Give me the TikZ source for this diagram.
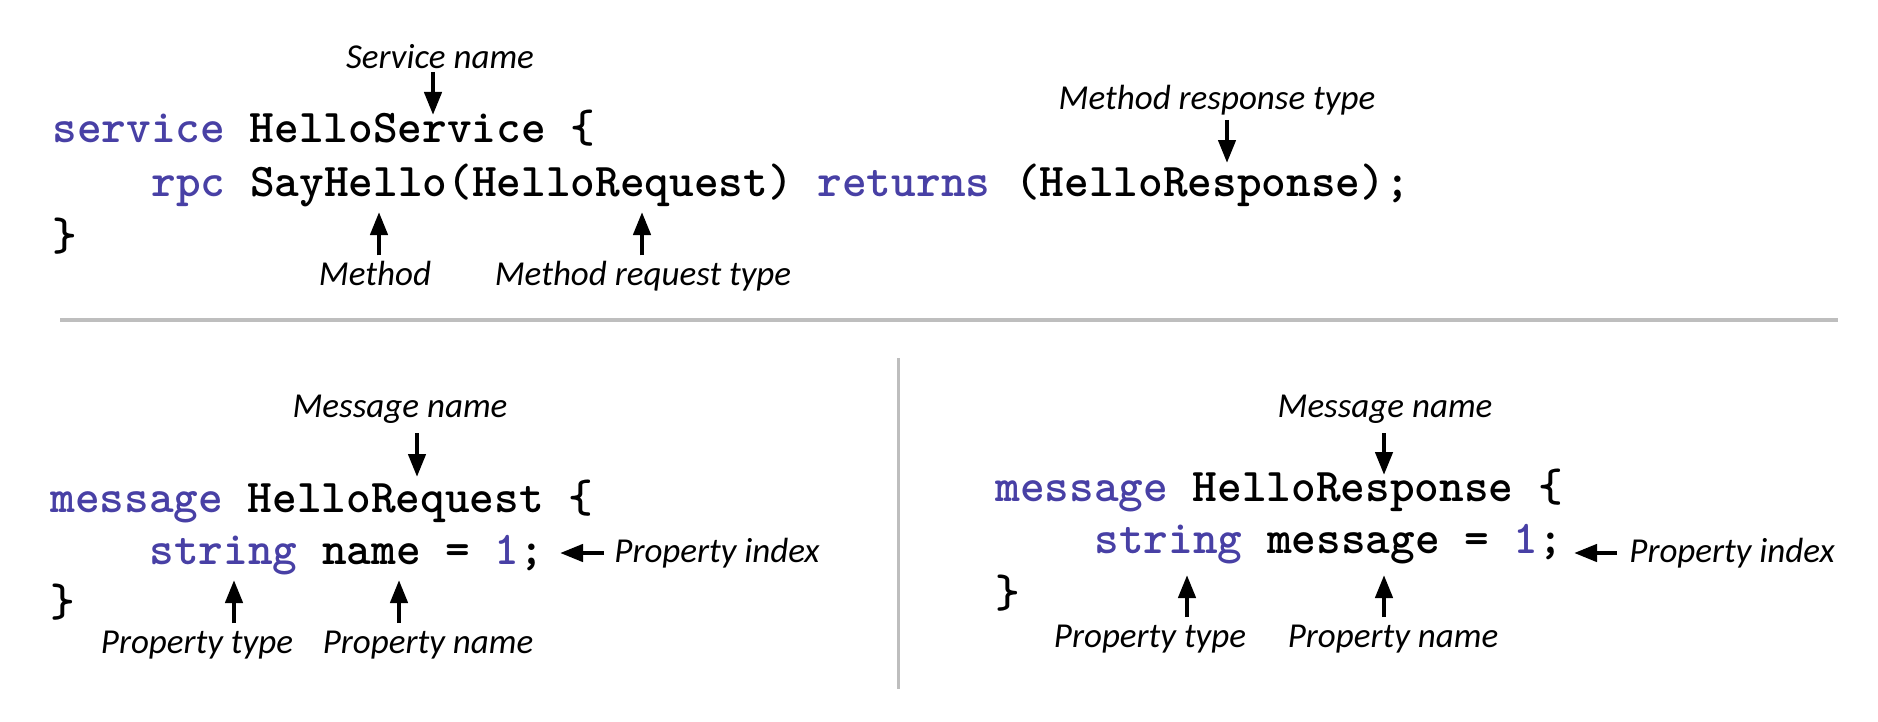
\documentclass[tikz,border=0pt]{standalone}
\usepackage{fontspec}
\newfontfamily\handfont{Carlito}
\usetikzlibrary{arrows.meta}
\definecolor{kwblue}{RGB}{72,64,165}
\definecolor{sepgray}{RGB}{190,190,190}
\newcommand{\kwd}[1]{\textcolor{kwblue}{#1}}
\begin{document}
\begin{tikzpicture}[x=0.5pt,y=-0.5pt,
  code/.style={anchor=base west, inner sep=0pt, font=\ttfamily\bfseries\fontsize{23.5pt}{26pt}\selectfont\addfontfeatures{FakeBold=1.2}},
  note/.style={anchor=base, inner sep=0pt, font=\handfont\itshape\fontsize{17.5pt}{21pt}\selectfont},
  arr/.style={line width=2.2pt, -{Triangle[length=11.5pt,width=8.5pt]}},
  sepline/.style={line width=2pt, draw=sepgray}]
\useasboundingbox (0,0) rectangle (1878,722);

% separators
\draw[sepline] (60,320) -- (1838,320);
\draw[sepline, line width=1.5pt] (898,358) -- (898,689);

% ---- service block
\node[code] (s1) at (52,142) {\kwd{service} HelloService \{};
\node[code] (s2) at (151,196) {\kwd{rpc} SayHello(HelloRequest) \kwd{returns} (HelloResponse);};
\node[code] (s3) at (52,250) {\}};

\node[note] (sn) at (440,69) {Service name};
\node[note] (mr) at (1217,110) {Method response type};
\node[note] (me) at (375,285) {Method};
\node[note] (mq) at (643,285) {Method request type};

\coordinate (snT) at (433,115);
\coordinate (mrT) at (1227,163);
\coordinate (meT) at (379,212);
\coordinate (mqT) at (642,212);

\draw[arr] ([yshift=-1.5pt]sn.base -| snT) -- (snT);
\draw[arr] ([yshift=-5pt]mr.base -| mrT) -- (mrT);
\draw[arr] ([yshift=2.5pt]me.north -| meT) -- (meT);
\draw[arr] ([yshift=2.5pt]mq.north -| mqT) -- (mqT);

% ---- request message
\node[code] (r1) at (50,512) {\kwd{message} HelloRequest \{};
\node[code] (r2) at (149,564) {\kwd{string} name = \kwd{1};};
\node[code] (r3) at (50,616) {\}};

\node[note] (mn1) at (400,417) {Message name};
\node[note, anchor=base west] (pi1) at (614,562) {Property index};
\node[note] (pt1) at (197,653) {Property type};
\node[note] (pn1) at (428,653) {Property name};

\coordinate (mn1T) at (417,477);
\coordinate (pi1T) at (560,553);
\coordinate (pt1T) at (234,580);
\coordinate (pn1T) at (399,580);

\draw[arr] ([yshift=-8pt]mn1.base -| mn1T) -- (mn1T);
\draw[arr] ([xshift=-5pt]pi1.west |- pi1T) -- (pi1T);
\draw[arr] ([yshift=3.5pt]pt1.north -| pt1T) -- (pt1T);
\draw[arr] ([yshift=3.5pt]pn1.north -| pn1T) -- (pn1T);

% ---- response message
\node[code] (q1) at (995,501) {\kwd{message} HelloResponse \{};
\node[code] (q2) at (1094,553) {\kwd{string} message = \kwd{1};};
\node[code] (q3) at (995,607) {\}};

\node[note] (mn2) at (1385,417) {Message name};
\node[note, anchor=base west] (pi2) at (1629,562) {Property index};
\node[note] (pt2) at (1150,647) {Property type};
\node[note] (pn2) at (1393,647) {Property name};

\coordinate (mn2T) at (1384,475);
\coordinate (pi2T) at (1574,553);
\coordinate (pt2T) at (1187,575);
\coordinate (pn2T) at (1384,575);

\draw[arr] ([yshift=-8pt]mn2.base -| mn2T) -- (mn2T);
\draw[arr] ([xshift=-6pt]pi2.west |- pi2T) -- (pi2T);
\draw[arr] ([yshift=3.5pt]pt2.north -| pt2T) -- (pt2T);
\draw[arr] ([yshift=3.5pt]pn2.north -| pn2T) -- (pn2T);
\end{tikzpicture}
\end{document}
